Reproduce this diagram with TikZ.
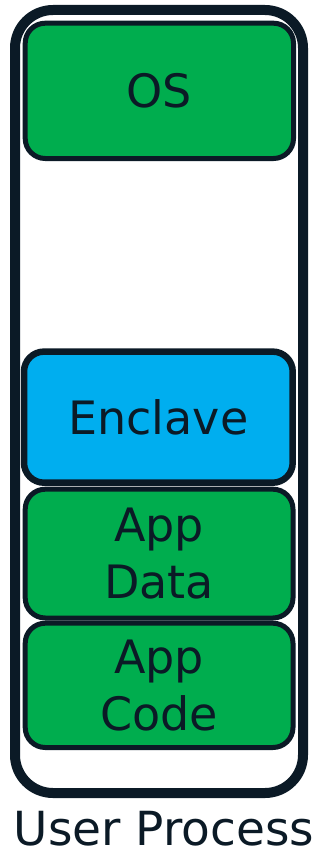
\documentclass[tikz,border=0pt]{standalone}
\usepackage{fontspec}
\setmainfont{DejaVu Sans}
\definecolor{dk}{HTML}{0B1A26}
\definecolor{gr}{HTML}{00AD4E}
\definecolor{bl}{HTML}{00AEEF}
\begin{document}
\begin{tikzpicture}[x=1pt,y=-1pt,
  box/.style={draw=dk, line width=5pt, rounded corners=20pt, fill=gr, inner sep=0pt,
    text=dk, align=center, font=\fontsize{46}{57}\selectfont},
  enc/.style={box, fill=bl, line width=6.5pt}]
\useasboundingbox (0,0) rectangle (321,851);
\draw[dk, line width=10pt, rounded corners=38pt] (15,10) rectangle (303,793);
\node[box, minimum width=268.3pt, minimum height=135.3pt] (os) at (159.35,90.85) {OS};
\node[enc, minimum width=268.7pt, minimum height=131.1pt] (enclave) at (158.35,417.15) {Enclave};
\node[box, minimum width=267.8pt, minimum height=128.8pt] (data) at (159.1,553.6) {App\\Data};
\node[box, minimum width=267.8pt, minimum height=124.3pt] (code) at (159.1,685.35) {App\\Code};
\node[text=dk, font=\fontsize{47}{57}\selectfont, anchor=base, inner sep=0pt] (label) at (164,845) {User Process};
\end{tikzpicture}
\end{document}
